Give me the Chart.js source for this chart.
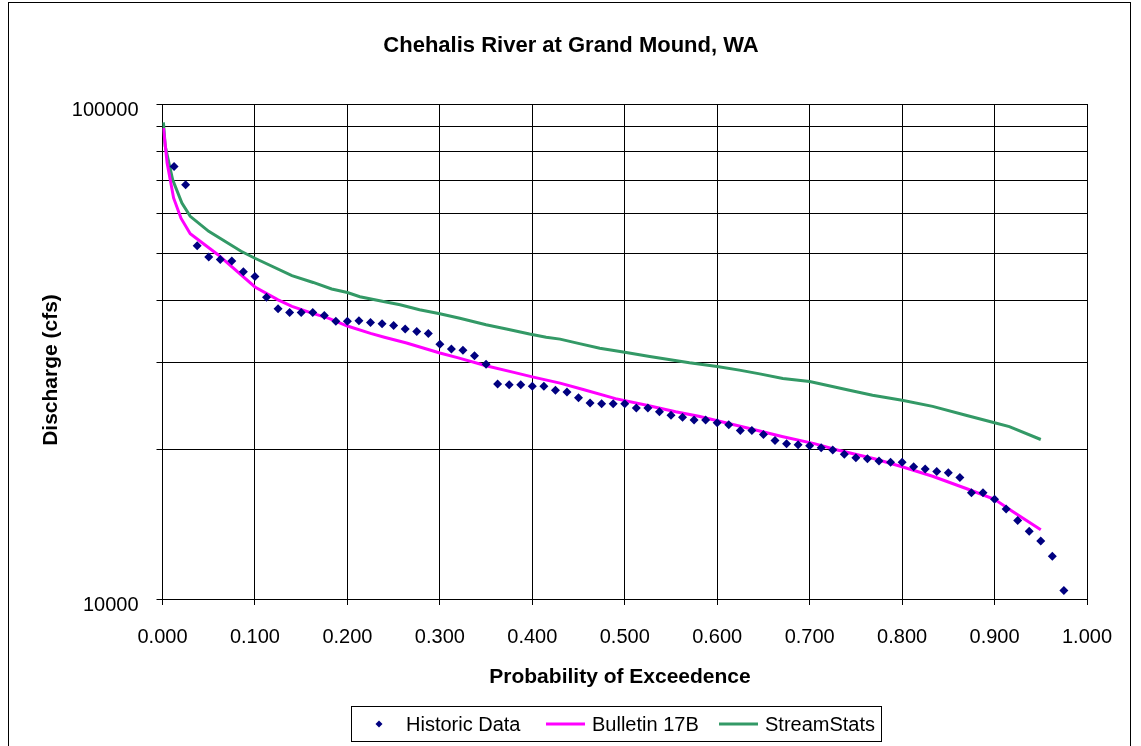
<!DOCTYPE html>
<html>
<head>
<meta charset="utf-8">
<title>Chehalis River at Grand Mound, WA</title>
<script src="https://cdn.jsdelivr.net/npm/chart.js@4.4.1/dist/chart.umd.min.js"></script>
<style>
  html, body { margin: 0; padding: 0; background: #fff; }
  #wrap { position: relative; width: 1141px; height: 746px; overflow: hidden; }
  #frame { position: absolute; left: 8px; top: 2px; width: 1123px; height: 800px;
           border: 1px solid #000; box-sizing: border-box; pointer-events: none; }
  canvas { position: absolute; left: 0; top: 0; }
</style>
</head>
<body>
<div id="wrap">
  <canvas id="chart" width="1141" height="746"></canvas>
  <div id="frame"></div>
</div>
<script>
// Annual peak flows, ranked (Weibull plotting position)
const historicProb = [
  0.0125, 0.0250, 0.0375, 0.0500, 0.0625, 0.0750, 0.0875, 0.1000, 0.1125, 0.1250,
  0.1375, 0.1500, 0.1625, 0.1750, 0.1875, 0.2000, 0.2125, 0.2250, 0.2375, 0.2500,
  0.2625, 0.2750, 0.2875, 0.3000, 0.3125, 0.3250, 0.3375, 0.3500, 0.3625, 0.3750,
  0.3875, 0.4000, 0.4125, 0.4250, 0.4375, 0.4500, 0.4625, 0.4750, 0.4875, 0.5000,
  0.5125, 0.5250, 0.5375, 0.5500, 0.5625, 0.5750, 0.5875, 0.6000, 0.6125, 0.6250,
  0.6375, 0.6500, 0.6625, 0.6750, 0.6875, 0.7000, 0.7125, 0.7250, 0.7375, 0.7500,
  0.7625, 0.7750, 0.7875, 0.8000, 0.8125, 0.8250, 0.8375, 0.8500, 0.8625, 0.8750,
  0.8875, 0.9000, 0.9125, 0.9250, 0.9375, 0.9500, 0.9625, 0.9750
];
const historicFlow = [
  74800, 68700, 51700, 49100, 48500, 48200, 45800, 44800, 40700, 38600,
  37900, 37900, 37900, 37400, 36400, 36400, 36500, 36200, 36000, 35700,
  35100, 34700, 34400, 32700, 32000, 31800, 31000, 29800, 27200, 27100,
  27100, 26900, 26900, 26400, 26200, 25500, 24900, 24800, 24800, 24800,
  24300, 24300, 23900, 23500, 23300, 23000, 23000, 22700, 22500, 21900,
  21900, 21500, 20900, 20600, 20500, 20400, 20200, 20000, 19600, 19300,
  19200, 19000, 18900, 18900, 18500, 18300, 18100, 18000, 17600, 16400,
  16400, 15900, 15200, 14400, 13700, 13100, 12200, 10400
];

// Bulletin 17B frequency curve
const b17Prob = [
  0.001, 0.005, 0.012, 0.02, 0.03, 0.06, 0.10, 0.125, 0.14, 0.16,
  0.18, 0.20, 0.225, 0.24, 0.264, 0.30, 0.32, 0.35, 0.38, 0.40,
  0.43, 0.455, 0.49, 0.525, 0.555, 0.58, 0.635, 0.67, 0.705, 0.73,
  0.77, 0.80, 0.833, 0.87, 0.90, 0.92, 0.95
];
const b17Flow = [
  89400, 76000, 64600, 58800, 54700, 49600, 42700, 40200, 39000, 37900,
  36900, 35600, 34400, 33800, 32900, 31400, 30700, 29600, 28700, 28100,
  27300, 26500, 25400, 24600, 23900, 23400, 22100, 21300, 20600, 20000,
  19200, 18500, 17700, 16700, 15900, 15000, 13800
];

// StreamStats regression curve
const ssProb = [
  0.001, 0.003, 0.011, 0.021, 0.03, 0.05, 0.085, 0.10, 0.14, 0.163,
  0.183, 0.20, 0.2135, 0.239, 0.257, 0.278, 0.30, 0.3216, 0.35, 0.372,
  0.397, 0.415, 0.43, 0.451, 0.473, 0.50, 0.527, 0.57, 0.60, 0.624,
  0.646, 0.671, 0.70, 0.743, 0.768, 0.80, 0.833, 0.869, 0.90, 0.916,
  0.95
];
const ssFlow = [
  91800, 82100, 70300, 63100, 59300, 55300, 50400, 48800, 45000, 43600,
  42300, 41600, 40800, 39900, 39300, 38400, 37700, 36900, 35800, 35100,
  34300, 33800, 33500, 32800, 32100, 31500, 30900, 30000, 29500, 29000,
  28500, 27900, 27500, 26400, 25800, 25200, 24500, 23500, 22700, 22300,
  21000
];

// Gridline values on the log axis; only the decade ends carry a label
const yGridValues = [10000, 20000, 30000, 40000, 50000, 60000, 70000, 80000, 90000, 100000];
const yLabeledValues = [10000, 100000];

const FONT = "'Liberation Sans', Arial, sans-serif";
const toPoints = (xs, ys) => xs.map((x, i) => ({ x: x, y: ys[i] }));

// Chart title, axis titles and the boxed legend under the x axis
const decorPlugin = {
  id: 'decor',
  afterDraw(chart) {
    const ctx = chart.ctx;
    ctx.save();
    ctx.fillStyle = '#000';
    ctx.textAlign = 'center';
    ctx.textBaseline = 'middle';

    ctx.font = 'bold 22px ' + FONT;
    ctx.fillText('Chehalis River at Grand Mound, WA', 571, 46);

    ctx.font = 'bold 21px ' + FONT;
    ctx.fillText('Probability of Exceedence', 620, 677);

    ctx.save();
    ctx.translate(51, 370);
    ctx.rotate(-Math.PI / 2);
    ctx.fillText('Discharge (cfs)', 0, 0);
    ctx.restore();

    // legend frame
    const bx = 351.5, by = 706.5, bw = 530, bh = 35;
    ctx.strokeStyle = '#000';
    ctx.lineWidth = 1;
    ctx.strokeRect(bx, by, bw, bh);

    const cy = by + bh / 2;
    const ds = chart.data.datasets;
    ctx.font = '20px ' + FONT;
    ctx.textAlign = 'left';

    // Historic Data marker
    const r = 3.5, mx = 379;
    ctx.fillStyle = ds[0].backgroundColor;
    ctx.beginPath();
    ctx.moveTo(mx, cy - r); ctx.lineTo(mx + r, cy); ctx.lineTo(mx, cy + r); ctx.lineTo(mx - r, cy);
    ctx.closePath(); ctx.fill();
    ctx.fillStyle = '#000';
    ctx.fillText(ds[0].label, 406, cy + 1);

    // Bulletin 17B
    ctx.strokeStyle = ds[1].borderColor; ctx.lineWidth = 3;
    ctx.beginPath(); ctx.moveTo(546, cy); ctx.lineTo(585, cy); ctx.stroke();
    ctx.fillText(ds[1].label, 592, cy + 1);

    // StreamStats
    ctx.strokeStyle = ds[2].borderColor;
    ctx.beginPath(); ctx.moveTo(719, cy); ctx.lineTo(758, cy); ctx.stroke();
    ctx.fillText(ds[2].label, 765, cy + 1);
    ctx.restore();
  }
};

new Chart(document.getElementById('chart'), {
  type: 'scatter',
  data: {
    datasets: [
      {
        label: 'Historic Data',
        data: toPoints(historicProb, historicFlow),
        showLine: false,
        pointStyle: 'rectRot',
        pointRadius: 4.5,
        backgroundColor: '#000080',
        borderColor: '#000080',
        borderWidth: 0,
        order: 0
      },
      {
        label: 'Bulletin 17B',
        data: toPoints(b17Prob, b17Flow),
        showLine: true,
        borderColor: '#FF00FF',
        backgroundColor: '#FF00FF',
        borderWidth: 3,
        pointRadius: 0,
        tension: 0,
        order: 1
      },
      {
        label: 'StreamStats',
        data: toPoints(ssProb, ssFlow),
        showLine: true,
        borderColor: '#339966',
        backgroundColor: '#339966',
        borderWidth: 3,
        pointRadius: 0,
        tension: 0,
        order: 2
      }
    ]
  },
  options: {
    responsive: false,
    animation: false,
    devicePixelRatio: 1,
    layout: { padding: { top: 104, right: 54, bottom: 0, left: 0 } },
    plugins: {
      legend: { display: false },
      title: { display: false },
      tooltip: { enabled: false }
    },
    scales: {
      x: {
        type: 'linear',
        min: 0,
        max: 1,
        afterFit(scale) { scale.height = 147; },
        ticks: {
          stepSize: 0.1,
          color: '#000',
          font: { family: FONT, size: 20 },
          padding: 20,
          maxRotation: 0,
          callback: (v) => v.toFixed(3)
        },
        grid: { color: '#000', lineWidth: 1, tickLength: 6, drawTicks: true },
        border: { color: '#000', width: 1 },
        title: { display: false }
      },
      y: {
        type: 'logarithmic',
        min: 10000,
        max: 100000,
        afterFit(scale) { scale.width = 162.5; },
        afterBuildTicks(scale) {
          scale.ticks = yGridValues.map(v => ({ value: v }));
        },
        ticks: {
          color: '#000',
          font: { family: FONT, size: 20 },
          padding: 18,
          labelOffset: 6,
          autoSkip: false,
          callback: (v) => (yLabeledValues.includes(v) ? String(v) : '')
        },
        grid: { color: '#000', lineWidth: 1, tickLength: 6 },
        border: { color: '#000', width: 1 },
        title: { display: false }
      }
    }
  },
  plugins: [decorPlugin]
});
</script>
</body>
</html>
